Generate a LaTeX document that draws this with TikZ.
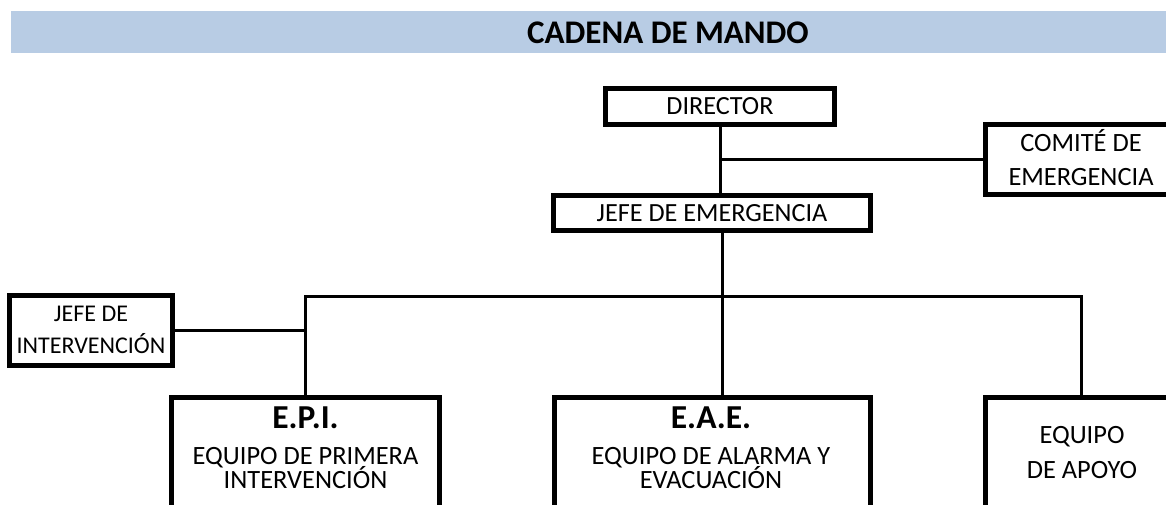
\documentclass[tikz,border=0pt]{standalone}
\usepackage{fontspec}
\setmainfont{Carlito}
\definecolor{bannerblue}{HTML}{B8CCE4}
\tikzset{
  box/.style={draw, line width=5pt, inner sep=0pt, rectangle, font=\fontsize{26.2}{30}\selectfont},
  conn/.style={line width=3pt},
  txt/.style={anchor=base, inner sep=0pt, font=\fontsize{26.4}{30}\selectfont},
  smalltxt/.style={anchor=base, inner sep=0pt, font=\fontsize{24}{28}\selectfont},
  head/.style={anchor=base, inner sep=0pt, font=\fontsize{33.5}{40}\selectfont\bfseries},
  titletxt/.style={anchor=base, inner sep=0pt, font=\fontsize{33}{38}\selectfont\bfseries},
}
\begin{document}
\begin{tikzpicture}[x=1pt,y=-1pt]
\useasboundingbox (0,0) rectangle (1166,504);
\clip (0,0) rectangle (1166,504);
% banner
\node[fill=bannerblue, minimum width=1155pt, minimum height=42pt, inner sep=0pt] (banner) at (588.5,32) {};
\node[titletxt] (title) at (668,43) {CADENA DE MANDO};
% top boxes
\node[box, minimum width=229pt, minimum height=36pt] (dir) at (720,106.5) {DIRECTOR};
\node[box, minimum width=317pt, minimum height=35pt] (jefe) at (712,213) {JEFE DE EMERGENCIA};
\node[box, minimum width=191pt, minimum height=70pt] (com) at (1081,159.5) {};
\node[txt] (com1) at (1081,151.7) {COMITÉ DE};
\node[txt] (com2) at (1081,185) {EMERGENCIA};
\node[box, minimum width=163pt, minimum height=70pt] (jint) at (91,330.5) {};
\node[smalltxt] (jint1) at (91,321.7) {JEFE DE};
\node[smalltxt] (jint2) at (91,353.3) {INTERVENCIÓN};
% bottom boxes
\node[box, minimum width=268pt, minimum height=140pt] (epi) at (305.5,467.5) {};
\node[head] (epi0) at (305.5,428) {E.P.I.};
\node[txt] (epi1) at (305.5,464.5) {EQUIPO DE PRIMERA};
\node[txt] (epi2) at (305.5,488.5) {INTERVENCIÓN};
\node[box, minimum width=316pt, minimum height=140pt] (eae) at (712.5,467.5) {};
\node[head] (eae0) at (711,428) {E.A.E.};
\node[txt] (eae1) at (711,464.5) {EQUIPO DE ALARMA Y};
\node[txt] (eae2) at (711,488.5) {EVACUACIÓN};
\node[box, minimum width=191pt, minimum height=140pt] (apoyo) at (1081,467.5) {};
\node[txt] (apo1) at (1082,443) {EQUIPO};
\node[txt] (apo2) at (1082,478) {DE APOYO};
% connectors
\coordinate (bus) at (722,296);
\draw[conn] (dir.south) -- (dir.south |- jefe.north);
\draw[conn] (com.west) -- (com.west -| dir.south);
\draw[conn] (bus |- jefe.south) -- (bus |- eae.north);
\draw[conn] (epi.north) -- (epi.north |- bus) -- (apoyo.north |- bus) -- (apoyo.north);
\draw[conn] (jint.east) -- (jint.east -| epi.north);
\end{tikzpicture}
\end{document}
